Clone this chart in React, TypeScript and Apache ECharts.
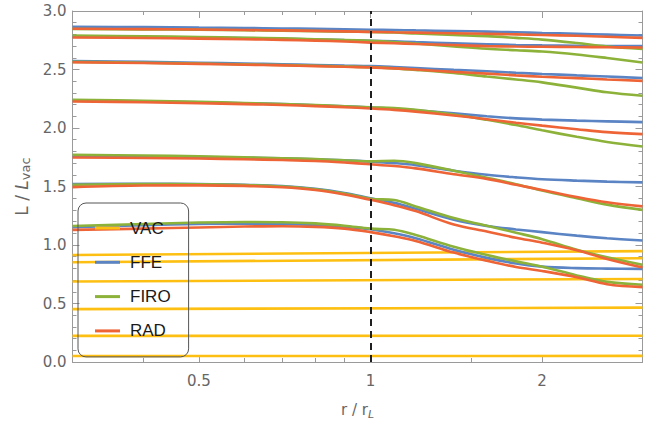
import React, { useEffect, useRef } from 'react';
import * as echarts from 'echarts';

// sample radii r / r_L
const R = [0.3, 0.4, 0.5, 0.6, 0.7, 0.8, 0.9, 1.0, 1.1, 1.2, 1.4, 1.6, 1.8, 2.0, 2.3, 2.6, 3.0];

// FFE modes (L / L_vac)
const FFE_1 = [1.152, 1.17, 1.18, 1.183, 1.18, 1.172, 1.157, 1.135, 1.10, 1.058, 0.96, 0.89, 0.842, 0.815, 0.802, 0.798, 0.796];
const FFE_2 = [1.52, 1.523, 1.521, 1.515, 1.503, 1.48, 1.445, 1.40, 1.36, 1.31, 1.215, 1.163, 1.133, 1.11, 1.08, 1.058, 1.038];
const FFE_3 = [1.76, 1.757, 1.752, 1.746, 1.74, 1.733, 1.724, 1.713, 1.70, 1.683, 1.635, 1.60, 1.578, 1.562, 1.55, 1.542, 1.535];
const FFE_4 = [2.235, 2.228, 2.22, 2.212, 2.204, 2.195, 2.185, 2.175, 2.165, 2.152, 2.125, 2.1, 2.082, 2.072, 2.063, 2.057, 2.05];
const FFE_5 = [2.572, 2.565, 2.558, 2.551, 2.545, 2.539, 2.534, 2.53, 2.522, 2.513, 2.497, 2.485, 2.472, 2.462, 2.45, 2.44, 2.427];
const FFE_6 = [2.783, 2.778, 2.773, 2.768, 2.763, 2.757, 2.751, 2.746, 2.741, 2.734, 2.724, 2.716, 2.71, 2.706, 2.703, 2.701, 2.70];
const FFE_7 = [2.865, 2.862, 2.858, 2.855, 2.851, 2.847, 2.843, 2.84, 2.837, 2.834, 2.829, 2.824, 2.818, 2.812, 2.805, 2.798, 2.79];

// FIRO modes
const FIRO_1 = [1.163, 1.18, 1.192, 1.197, 1.195, 1.185, 1.165, 1.14, 1.13, 1.085, 0.985, 0.915, 0.86, 0.815, 0.74, 0.685, 0.66];
const FIRO_2 = [1.515, 1.52, 1.519, 1.513, 1.50, 1.477, 1.44, 1.395, 1.385, 1.33, 1.23, 1.165, 1.105, 1.05, 0.96, 0.895, 0.83];
const FIRO_3 = [1.771, 1.765, 1.758, 1.75, 1.742, 1.734, 1.724, 1.715, 1.72, 1.70, 1.635, 1.575, 1.52, 1.465, 1.40, 1.345, 1.30];
const FIRO_4 = [2.241, 2.232, 2.223, 2.214, 2.205, 2.196, 2.186, 2.176, 2.17, 2.155, 2.115, 2.07, 2.025, 1.98, 1.925, 1.88, 1.842];
const FIRO_5 = [2.565, 2.558, 2.551, 2.544, 2.538, 2.532, 2.526, 2.52, 2.51, 2.497, 2.47, 2.44, 2.415, 2.39, 2.345, 2.305, 2.275];
const FIRO_6 = [2.79, 2.784, 2.778, 2.772, 2.766, 2.759, 2.752, 2.745, 2.735, 2.722, 2.697, 2.677, 2.665, 2.654, 2.628, 2.598, 2.56];
const FIRO_7 = [2.846, 2.843, 2.84, 2.836, 2.832, 2.828, 2.824, 2.82, 2.816, 2.808, 2.795, 2.785, 2.77, 2.755, 2.726, 2.697, 2.675];

// RAD modes
const RAD_1 = [1.129, 1.14, 1.15, 1.158, 1.16, 1.155, 1.14, 1.11, 1.075, 1.035, 0.935, 0.865, 0.812, 0.778, 0.725, 0.665, 0.64];
const RAD_2 = [1.495, 1.508, 1.51, 1.505, 1.493, 1.47, 1.432, 1.386, 1.34, 1.29, 1.175, 1.115, 1.062, 1.02, 0.955, 0.88, 0.807];
const RAD_3 = [1.748, 1.744, 1.739, 1.733, 1.726, 1.718, 1.705, 1.69, 1.675, 1.655, 1.605, 1.565, 1.515, 1.47, 1.41, 1.365, 1.33];
const RAD_4 = [2.227, 2.22, 2.212, 2.204, 2.196, 2.187, 2.178, 2.167, 2.155, 2.14, 2.107, 2.075, 2.045, 2.02, 1.99, 1.965, 1.948];
const RAD_5 = [2.562, 2.555, 2.548, 2.541, 2.535, 2.529, 2.523, 2.518, 2.51, 2.5, 2.48, 2.465, 2.45, 2.438, 2.426, 2.415, 2.403];
const RAD_6 = [2.774, 2.769, 2.764, 2.759, 2.753, 2.747, 2.739, 2.73, 2.725, 2.718, 2.709, 2.70, 2.696, 2.694, 2.692, 2.69, 2.688];
const RAD_7 = [2.848, 2.845, 2.842, 2.838, 2.834, 2.83, 2.826, 2.822, 2.818, 2.815, 2.81, 2.805, 2.80, 2.795, 2.788, 2.78, 2.77];

// VAC modes: value at r = 0.3 and r = 3
const VAC_R = [0.3, 3.0];
const VAC_START = [0.915, 0.853, 0.688, 0.452, 0.223, 0.051];
const VAC_END = [0.948, 0.887, 0.71, 0.465, 0.225, 0.052];

const X_MAJOR = [0.5, 1, 2];
const X_MINOR = [0.4, 0.6, 0.7, 0.8, 0.9, 1.5, 3];
const LEGEND = ['VAC', 'FFE', 'FIRO', 'RAD'];

const COLORS: Record<string, string> = {
  VAC: '#FDC012',
  FFE: '#5B84C4',
  FIRO: '#8DB23A',
  RAD: '#EE6436',
};

const FFE = [FFE_1, FFE_2, FFE_3, FFE_4, FFE_5, FFE_6, FFE_7];
const FIRO = [FIRO_1, FIRO_2, FIRO_3, FIRO_4, FIRO_5, FIRO_6, FIRO_7];
const RAD = [RAD_1, RAD_2, RAD_3, RAD_4, RAD_5, RAD_6, RAD_7];

const AX = '#9a9a9a';
const LABEL_FONT = 'DejaVu Sans';

export default function App() {
  const ref = useRef<HTMLDivElement>(null);
  useEffect(() => {
    const chart = echarts.init(ref.current!, null, { renderer: 'svg' });

    const line = (name: string, data: number[][], extra: any = {}) => ({
      type: 'line',
      name,
      data,
      xAxisIndex: 0,
      yAxisIndex: 0,
      smooth: 0.35,
      showSymbol: false,
      symbol: 'none',
      silent: true,
      lineStyle: { color: COLORS[name], width: 2.6 },
      itemStyle: { color: COLORS[name] },
      ...extra,
    });

    const series: any[] = [];
    VAC_START.forEach((v0, i) => {
      series.push(line('VAC', [[VAC_R[0], v0], [VAC_R[1], VAC_END[i]]]));
    });
    const add = (name: string, arr: number[][]) =>
      arr.forEach((vals) => series.push(line(name, R.map((r, j) => [r, vals[j]]))));
    add('FFE', FFE);
    add('FIRO', FIRO);
    add('RAD', RAD);
    // dashed marker at r = r_L
    series.push({
      type: 'line',
      name: 'rL',
      data: [],
      silent: true,
      markLine: {
        symbol: 'none',
        silent: true,
        label: { show: false },
        lineStyle: { color: '#1f1f1f', type: [7, 5], width: 2 },
        data: [{ xAxis: 1 }],
      },
    });

    const fmt = (v: number) => String(+(+v).toPrecision(3));
    const baseX = {
      type: 'log',
      logBase: 2,
      min: 0.3,
      max: 3,
      splitLine: { show: false },
      minorTick: { show: false },
      minorSplitLine: { show: false },
    };
    const mkName = (fs: number, ss: number) => ({
      fontFamily: LABEL_FONT,
      fontSize: fs,
      color: '#666',
      rich: {
        n: { fontFamily: LABEL_FONT, fontSize: fs, color: '#666', lineHeight: 20, verticalAlign: 'middle' },
        i: { fontFamily: LABEL_FONT, fontSize: fs, color: '#666', fontStyle: 'italic', lineHeight: 20, verticalAlign: 'middle' },
        s: { fontFamily: LABEL_FONT, fontSize: ss, color: '#666', lineHeight: ss, verticalAlign: 'bottom' },
        si: { fontFamily: LABEL_FONT, fontSize: ss, color: '#666', fontStyle: 'italic', lineHeight: ss, verticalAlign: 'bottom' },
      },
    });

    const baseY = {
      type: 'value',
      min: 0,
      max: 3,
      interval: 0.5,
      splitLine: { show: false },
      minorSplitLine: { show: false },
      axisLine: { show: true, lineStyle: { color: AX, width: 1 } },
      axisTick: { show: true, inside: true, length: 7, lineStyle: { color: AX } },
      minorTick: { show: true, splitNumber: 5, length: 4, lineStyle: { color: AX } },
    };

    const option: any = {
      animation: false,
      backgroundColor: '#ffffff',
      grid: { left: 72.5, right: 22.5, top: 11, bottom: 66, containLabel: false },
      legend: {
        data: LEGEND.map((n) => ({ name: n, icon: 'rect', itemStyle: { color: COLORS[n] } })),
        orient: 'vertical',
        left: 78,
        top: 203,
        padding: [16.5, 18, 17.5, 17],
        itemGap: 17.3,
        itemWidth: 25,
        itemHeight: 3,
        icon: 'rect',
        borderColor: '#555',
        borderWidth: 1,
        borderRadius: 8,
        selectedMode: false,
        zlevel: 1,
        z: 10,
        textStyle: {
          fontFamily: 'Liberation Sans',
          fontSize: 17,
          color: '#1a1a1a',
          lineHeight: 17,
          padding: [0, 0, 0, 5],
        },
      },
      xAxis: [
        {
          ...baseX,
          position: 'bottom',
          axisLine: { show: true, lineStyle: { color: AX, width: 1 } },
          axisTick: { show: true, inside: true, length: 7, lineStyle: { color: AX }, customValues: X_MAJOR },
          axisLabel: {
            show: true,
            customValues: X_MAJOR,
            margin: 11,
            color: '#666',
            fontFamily: LABEL_FONT,
            fontSize: 15,
            formatter: fmt,
          },
          name: '{n|r / r}{si|L}',
          nameLocation: 'middle',
          nameGap: 38,
          nameTextStyle: mkName(15, 11),
        },
        {
          ...baseX,
          position: 'bottom',
          axisLine: { show: false },
          axisTick: { show: true, inside: true, length: 4, lineStyle: { color: AX }, customValues: X_MINOR },
          axisLabel: { show: false },
        },
        {
          ...baseX,
          position: 'top',
          axisLine: { show: true, lineStyle: { color: AX, width: 1 } },
          axisTick: { show: true, inside: true, length: 7, lineStyle: { color: AX }, customValues: X_MAJOR },
          axisLabel: { show: false },
        },
        {
          ...baseX,
          position: 'top',
          axisLine: { show: false },
          axisTick: { show: true, inside: true, length: 4, lineStyle: { color: AX }, customValues: X_MINOR },
          axisLabel: { show: false },
        },
      ],
      yAxis: [
        {
          ...baseY,
          position: 'left',
          axisLabel: {
            show: true,
            margin: 6,
            color: '#666',
            fontFamily: LABEL_FONT,
            fontSize: 15,
            formatter: (v: number) => v.toFixed(1),
          },
          name: '{n|L / }{i|L}{s|vac}',
          nameLocation: 'middle',
          nameGap: 40,
          nameRotate: 90,
          nameTextStyle: mkName(17, 13),
        },
        {
          ...baseY,
          position: 'right',
          axisLabel: { show: false },
        },
      ],
      series,
    };

    chart.setOption(option);
    return () => chart.dispose();
  }, []);

  return (
    <div
      ref={ref}
      style={{ position: 'fixed', left: 0, top: 0, width: 665, height: 428, background: '#fff' }}
    />
  );
}
